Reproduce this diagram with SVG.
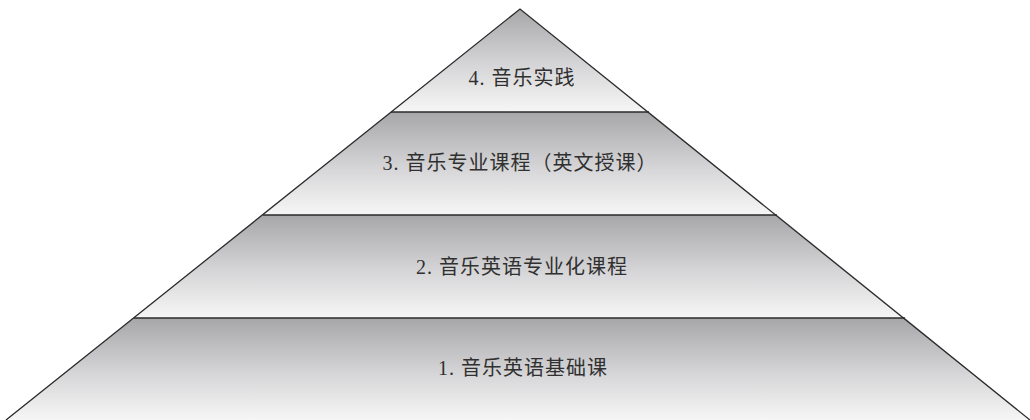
<svg xmlns="http://www.w3.org/2000/svg" width="1030" height="420" viewBox="0 0 1030 420">
<style>
.band{stroke:none}
.edge{stroke:#2a2a2a;stroke-width:1.3;fill:none}
.lbl{font-family:"Liberation Serif","Noto Sans CJK SC",serif;font-size:20px;fill:#303030;text-anchor:middle;dominant-baseline:central;letter-spacing:1px}
</style>
<defs>
<linearGradient id="g" x1="0" y1="0" x2="0" y2="1">
<stop offset="0" stop-color="#a7a7aa"/>
<stop offset="0.55" stop-color="#d6d6d8"/>
<stop offset="1" stop-color="#f6f6f6"/>
</linearGradient>
</defs>
<rect width="1030" height="420" fill="#ffffff"/>
<g id="level4">
<polygon class="band" points="520,9 391,112 649,112" fill="url(#g)"/>
<text class="lbl" x="522" y="78">4. 音乐实践</text>
</g>
<g id="level3">
<polygon class="band" points="391,112 649,112 777,215 263,215" fill="url(#g)"/>
<text class="lbl" x="520" y="163">3. 音乐专业课程（英文授课）</text>
</g>
<g id="level2">
<polygon class="band" points="263,215 777,215 905,318 134,318" fill="url(#g)"/>
<text class="lbl" x="522" y="267">2. 音乐英语专业化课程</text>
</g>
<g id="level1">
<polygon class="band" points="134,318 905,318 1030,420 6,420" fill="url(#g)"/>
<text class="lbl" x="523" y="368">1. 音乐英语基础课</text>
</g>
<g id="connectors">
<polyline class="edge" points="6,420 520,9 1030,420"/>
<line class="edge" x1="391" y1="112" x2="649" y2="112"/>
<line class="edge" x1="263" y1="215" x2="777" y2="215"/>
<line class="edge" x1="134" y1="318" x2="905" y2="318"/>
</g>
</svg>
